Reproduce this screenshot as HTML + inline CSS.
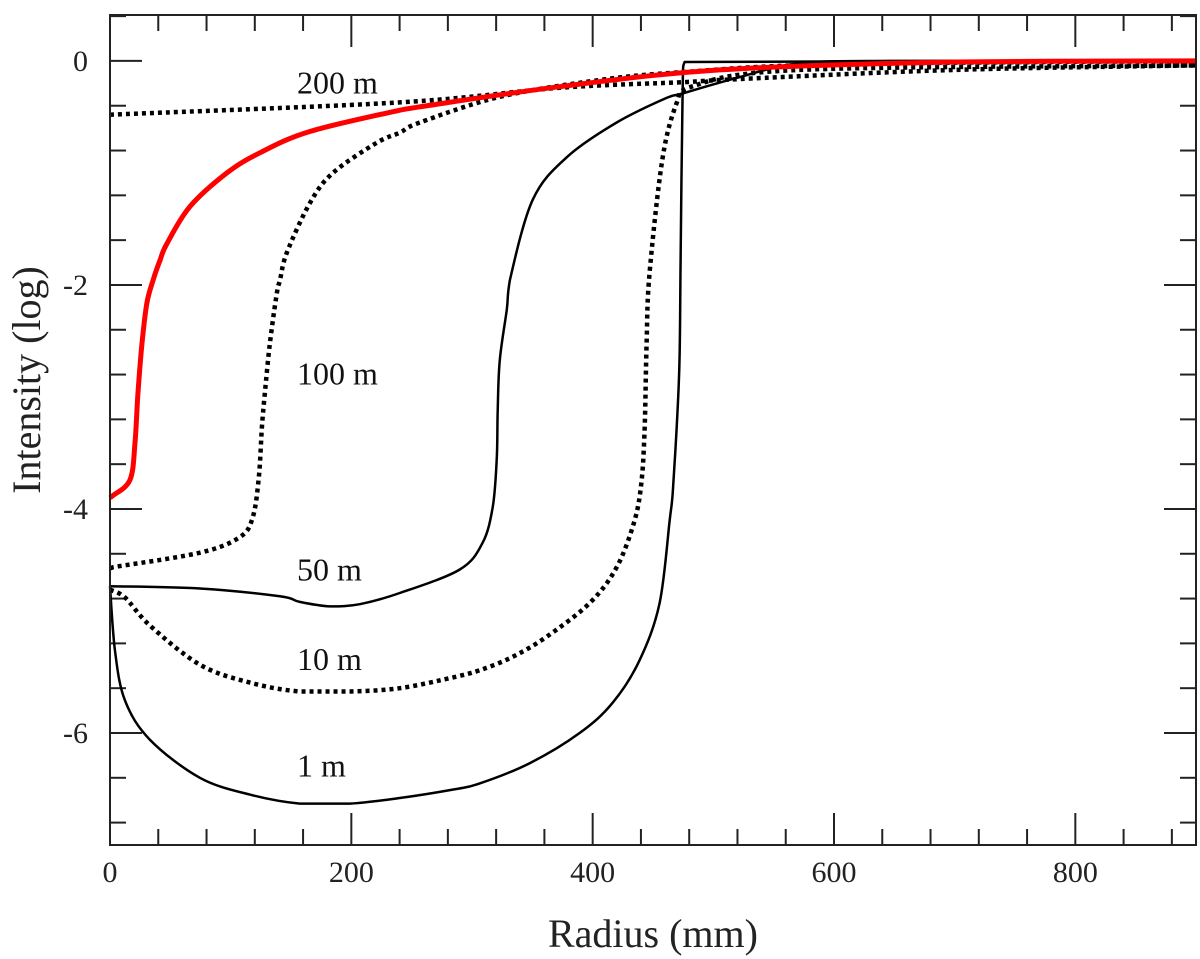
<!DOCTYPE html>
<html><head><meta charset="utf-8"><style>
html,body{margin:0;padding:0;background:#fff;}
svg{display:block;font-family:"Liberation Serif",serif;}
</style></head><body>
<svg id="chart" width="1200" height="959" viewBox="0 0 1200 959"></svg>
<script>
const xTicks=[0,200,400,600,800];
const yTicks=[0,-2,-4,-6];
const redX=[0,2.5,16.6,20.7,23.2,26.5,30.6,35.6,41.4,47.2,66.3,96.9,124.2,165.6,240.2,256.7,372.7,505.2,700,900];
const redY=[-3.9,-3.88,-3.74,-3.41,-2.96,-2.52,-2.16,-1.96,-1.78,-1.63,-1.30,-1.0,-0.82,-0.63,-0.44,-0.41,-0.23,-0.08,-0.01,0];
const m200X=[0,240.2,372.7,474.5,505.2,700,900];
const m200Y=[-0.48,-0.37,-0.24,-0.19,-0.17,-0.08,-0.04];
const m100X=[0,2.5,74.5,107.7,118.4,123.4,125.9,128.4,132.5,138.3,140.8,146.6,165.6,184.7,221.1,240.2,256.7,323,405.8,474.5,600,900];
const m100Y=[-4.53,-4.52,-4.39,-4.25,-4.07,-3.71,-3.27,-2.96,-2.52,-2.07,-1.96,-1.71,-1.27,-1.0,-0.73,-0.64,-0.55,-0.32,-0.17,-0.10,-0.03,0];
const m50X=[0,74.5,140.8,157.3,182.2,207,240.2,289.9,308.9,317.2,320.5,321.3,323,328.8,331.3,350.3,378.5,419.9,461.3,474.5,520,571.4,650,900];
const m50Y=[-4.69,-4.71,-4.78,-4.83,-4.87,-4.85,-4.75,-4.54,-4.30,-3.98,-3.56,-3.12,-2.67,-2.22,-1.96,-1.24,-0.86,-0.55,-0.33,-0.29,-0.15,-0.02,0,0];
const m10X=[0,12.4,33.1,74.5,115.9,157.3,198.8,240.2,281.6,306.4,333.7,361.9,397.5,419.9,434.8,440.6,443.1,444.7,447.2,458,469.6,478.7,571.4,900];
const m10Y=[-4.72,-4.79,-5.04,-5.39,-5.55,-5.63,-5.63,-5.60,-5.51,-5.44,-5.32,-5.14,-4.84,-4.52,-4.10,-3.74,-3.27,-2.52,-1.89,-0.86,-0.375,-0.24,-0.08,-0.04];
const m1X=[0,4.1,12.4,33.1,74.5,115.9,157.3,198.8,240.2,281.6,306.4,347.8,389.2,416.6,438.9,455.5,463.8,466.3,469.6,472,472.9,474.5,476.2,900];
const m1Y=[-4.69,-5.26,-5.71,-6.06,-6.40,-6.55,-6.63,-6.63,-6.58,-6.51,-6.45,-6.27,-6.0,-5.73,-5.35,-4.84,-4.10,-3.86,-3.27,-2.67,-1.78,-0.29,-0.01,0];
const labelText=["200 m","100 m","50 m","10 m","1 m"];
const labelY=[-0.2,-2.8,-4.55,-5.35,-6.3];

const L=110,R=1196,T=15,B=845;
const xmin=0,xmax=900,ymin=-7,ymax=0.41;
function sx(v){return L+(v-xmin)/(xmax-xmin)*(R-L);}
function sy(v){return T+(ymax-v)/(ymax-ymin)*(B-T);}
const svg=document.getElementById('chart');
const NS='http://www.w3.org/2000/svg';
function mk(tag,attrs){const e=document.createElementNS(NS,tag);for(const k in attrs)e.setAttribute(k,attrs[k]);svg.appendChild(e);return e;}

for(let v=0;v<=900;v+=40){
  const len=(v%200===0)?32:16;
  const t1=mk('line',{x1:sx(v),x2:sx(v),y1:B,y2:B-len,stroke:'#222','stroke-width':2});
  
  
  const t2=mk('line',{x1:sx(v),x2:sx(v),y1:T,y2:T+len,stroke:'#222','stroke-width':2});
  
  
}
for(let i=0;i<=18;i++){
  const v=0.4-i*0.4;
  if(v<ymin-0.01)break;
  const major=(i-1)%5===0;
  const len=major?32:16;
  const t1=mk('line',{x1:L,x2:L+len,y1:sy(v),y2:sy(v),stroke:'#222','stroke-width':2});
  
  
  const t2=mk('line',{x1:R,x2:R-len,y1:sy(v),y2:sy(v),stroke:'#222','stroke-width':2});
  
  
}
xTicks.forEach(v=>{
  const t=mk('text',{x:sx(v),y:882,'font-size':30,'text-anchor':'middle',fill:'#222'});
  t.textContent=v;
  
  
});
yTicks.forEach(v=>{
  const t=mk('text',{x:88,y:sy(v)+10,'font-size':30,'text-anchor':'end',fill:'#222'});
  t.textContent=v;
  
  
});
const xt=mk('text',{x:653,y:947,'font-size':40,'text-anchor':'middle',fill:'#222'});
xt.textContent='Radius (mm)';


const yt=mk('text',{x:0,y:0,'font-size':40,'text-anchor':'middle',fill:'#222',transform:'translate(40,380) rotate(-90)'});
yt.textContent='Intensity (log)';



function clamp(v,a,b){const lo=Math.min(a,b),hi=Math.max(a,b);return Math.min(Math.max(v,lo),hi);}
function curve(xs,ys,name,color,w,dash){
  const P=xs.map((x,i)=>[sx(x),sy(ys[i])]);
  let d='M'+P[0][0].toFixed(1)+','+P[0][1].toFixed(1);
  for(let i=0;i<P.length-1;i++){
    const p0=P[i-1]||P[i],p1=P[i],p2=P[i+1],p3=P[i+2]||P[i+1];
    const c1=[clamp(p1[0]+(p2[0]-p0[0])/6,p1[0],p2[0]),clamp(p1[1]+(p2[1]-p0[1])/6,p1[1],p2[1])];
    const c2=[clamp(p2[0]-(p3[0]-p1[0])/6,p1[0],p2[0]),clamp(p2[1]-(p3[1]-p1[1])/6,p1[1],p2[1])];
    d+=' C'+c1[0].toFixed(1)+','+c1[1].toFixed(1)+' '+c2[0].toFixed(1)+','+c2[1].toFixed(1)+' '+p2[0].toFixed(1)+','+p2[1].toFixed(1);
  }
  const a={d:d,fill:'none',stroke:color,'stroke-width':w,'stroke-linejoin':'round'};
  if(dash)a['stroke-dasharray']=dash;
  const p=mk('path',a);
  
  
}
curve(m200X,m200Y,'curve-200m','#000',4.5,'4 4');
curve(m100X,m100Y,'curve-100m','#000',4.5,'4 4');
curve(m50X,m50Y,'curve-50m','#000',2.5,null);
curve(m10X,m10Y,'curve-10m','#000',4.5,'4 4');
curve(m1X,m1Y,'curve-1m','#000',2.5,null);
curve(redX,redY,'curve-red','#f00',5,null);

labelText.forEach((s,i)=>{
  const t=mk('text',{x:297,y:sy(labelY[i])+10,'font-size':32,fill:'#111'});
  t.textContent=s;
  
  
});
const box=mk('rect',{x:L,y:T,width:R-L,height:B-T,fill:'none',stroke:'#222','stroke-width':2});


</script>
</body></html>
